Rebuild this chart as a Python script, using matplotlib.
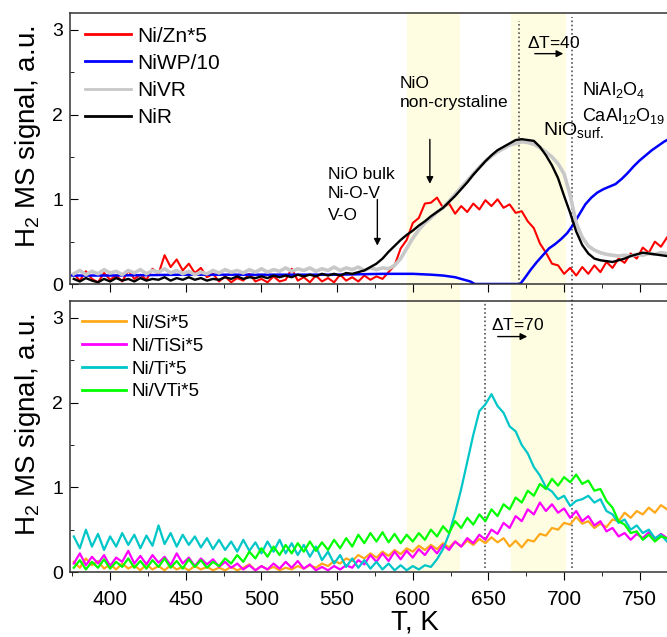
import numpy as np
import matplotlib
matplotlib.use('Agg')
import matplotlib.pyplot as plt
from matplotlib.ticker import MultipleLocator
from matplotlib.patches import Rectangle
from matplotlib.lines import Line2D
from matplotlib.transforms import blended_transform_factory

plt.rcParams['font.family'] = ['Liberation Sans', 'DejaVu Sans']
plt.rcParams['mathtext.fontset'] = 'custom'
plt.rcParams['mathtext.rm'] = 'Liberation Sans'

# temperature grid of the TPR runs, K
T = np.arange(376, 769, 4)

# upper panel
ni_zn = [0.12, 0.04, 0.15, 0.06, 0.02, 0.13, 0.05, 0.10, 0.03, 0.16,
         0.06, 0.11, 0.05, 0.18, 0.12, 0.34, 0.20, 0.29, 0.16, 0.24,
         0.13, 0.19, 0.08, 0.12, 0.03, 0.09, 0.02, 0.07, 0.04, 0.12,
         0.03, 0.06, 0.02, 0.09, 0.03, 0.05, 0.18, 0.04, 0.08, 0.02,
         0.10, 0.03, 0.07, 0.02, 0.11, 0.04, 0.08, 0.03, 0.10, 0.05,
         0.09, 0.06, 0.14, 0.22, 0.42, 0.52, 0.72, 0.78, 0.95, 0.96,
         1.02, 0.90, 0.95, 0.83, 0.92, 0.85, 0.95, 0.88, 0.99, 0.92,
         1.00, 0.90, 0.94, 0.84, 0.86, 0.74, 0.66, 0.48, 0.37, 0.24,
         0.22, 0.12, 0.19, 0.10, 0.20, 0.12, 0.22, 0.14, 0.26, 0.19,
         0.30, 0.25, 0.36, 0.30, 0.43, 0.37, 0.50, 0.44, 0.55]

ni_vr = [0.12, 0.16, 0.11, 0.15, 0.12, 0.17, 0.13, 0.15, 0.11, 0.16,
         0.13, 0.17, 0.12, 0.16, 0.14, 0.18, 0.13, 0.16, 0.12, 0.15,
         0.11, 0.14, 0.12, 0.16, 0.13, 0.17, 0.14, 0.16, 0.13, 0.17,
         0.14, 0.18, 0.14, 0.17, 0.15, 0.19, 0.15, 0.18, 0.16, 0.19,
         0.15, 0.18, 0.16, 0.20, 0.16, 0.19, 0.17, 0.20, 0.16, 0.19,
         0.17, 0.19, 0.18, 0.22, 0.30, 0.42, 0.54, 0.64, 0.72, 0.78,
         0.85, 0.90, 0.98, 1.06, 1.14, 1.22, 1.30, 1.38, 1.45, 1.51,
         1.56, 1.60, 1.64, 1.66, 1.68, 1.67, 1.65, 1.61, 1.56, 1.50,
         1.42, 1.30, 1.05, 0.72, 0.55, 0.45, 0.40, 0.37, 0.35, 0.34,
         0.33, 0.34, 0.33, 0.35, 0.34, 0.36, 0.35, 0.37, 0.36]

ni_r = [0.06, 0.03, 0.07, 0.04, 0.02, 0.06, 0.03, 0.07, 0.04, 0.06,
        0.03, 0.07, 0.04, 0.06, 0.05, 0.08, 0.04, 0.07, 0.05, 0.08,
        0.05, 0.07, 0.04, 0.06, 0.05, 0.08, 0.06, 0.09, 0.06, 0.08,
        0.07, 0.09, 0.07, 0.10, 0.08, 0.10, 0.08, 0.11, 0.09, 0.11,
        0.09, 0.12, 0.10, 0.12, 0.10, 0.13, 0.12, 0.14, 0.16, 0.20,
        0.24, 0.30, 0.38, 0.45, 0.52, 0.58, 0.63, 0.69, 0.74, 0.80,
        0.85, 0.90, 0.97, 1.04, 1.12, 1.20, 1.29, 1.37, 1.45, 1.52,
        1.58, 1.62, 1.66, 1.70, 1.71, 1.70, 1.69, 1.62, 1.52, 1.40,
        1.25, 1.04, 0.84, 0.62, 0.46, 0.36, 0.30, 0.28, 0.27, 0.26,
        0.28, 0.30, 0.33, 0.35, 0.37, 0.36, 0.35, 0.34, 0.33]

T_wp = [375, 400, 450, 500, 550, 580, 600, 612, 620, 628, 634, 638, 641,
        671, 674, 678, 682, 686, 690, 694, 698, 702, 706, 710, 714, 718,
        722, 726, 730, 734, 738, 742, 746, 750, 754, 758, 762, 766, 768]
ni_wp = [0.10, 0.10, 0.11, 0.11, 0.11, 0.12, 0.12, 0.11, 0.10, 0.08, 0.05, 0.03, 0.0,
         0.0, 0.07, 0.17, 0.26, 0.34, 0.42, 0.47, 0.53, 0.60, 0.70, 0.82, 0.94, 1.02,
         1.08, 1.12, 1.15, 1.18, 1.24, 1.31, 1.39, 1.46, 1.52, 1.58, 1.63, 1.68, 1.70]

# lower panel
ni_si = [0.12, 0.05, 0.16, 0.08, 0.13, 0.04, 0.09, 0.03, 0.10, 0.04,
         0.08, 0.02, 0.09, 0.03, 0.07, 0.02, 0.08, 0.03, 0.06, 0.02,
         0.07, 0.03, 0.06, 0.02, 0.05, 0.02, 0.06, 0.02, 0.05, 0.09,
         0.02, 0.07, 0.03, 0.06, 0.02, 0.05, 0.03, 0.07, 0.04, 0.08,
         0.05, 0.10, 0.07, 0.13, 0.10, 0.16, 0.13, 0.20, 0.16, 0.22,
         0.17, 0.24, 0.19, 0.26, 0.21, 0.28, 0.24, 0.31, 0.26, 0.32,
         0.27, 0.34, 0.29, 0.36, 0.30, 0.37, 0.32, 0.39, 0.34, 0.41,
         0.35, 0.40, 0.30, 0.37, 0.29, 0.38, 0.36, 0.45, 0.43, 0.52,
         0.50, 0.58, 0.56, 0.65, 0.57, 0.60, 0.52, 0.57, 0.53, 0.62,
         0.60, 0.70, 0.64, 0.72, 0.68, 0.76, 0.70, 0.79, 0.74]

ni_tisi = [0.10, 0.22, 0.08, 0.18, 0.10, 0.20, 0.07, 0.17, 0.12, 0.25,
           0.10, 0.19, 0.09, 0.20, 0.11, 0.18, 0.08, 0.22, 0.10, 0.17,
           0.07, 0.16, 0.09, 0.15, 0.06, 0.12, 0.05, 0.10, 0.03, 0.08,
           0.02, 0.07, 0.03, 0.10, 0.04, 0.12, 0.05, 0.13, 0.04, 0.09,
           0.02, 0.06, 0.02, 0.07, 0.03, 0.08, 0.05, 0.14, 0.09, 0.20,
           0.12, 0.22, 0.13, 0.24, 0.15, 0.25, 0.17, 0.27, 0.20, 0.30,
           0.22, 0.32, 0.26, 0.36, 0.30, 0.40, 0.34, 0.44, 0.38, 0.50,
           0.45, 0.58, 0.52, 0.66, 0.60, 0.74, 0.68, 0.82, 0.72, 0.80,
           0.70, 0.75, 0.64, 0.72, 0.60, 0.66, 0.55, 0.60, 0.48, 0.52,
           0.42, 0.46, 0.38, 0.45, 0.40, 0.47, 0.39, 0.45, 0.40]

ni_ti = [0.42, 0.28, 0.50, 0.30, 0.45, 0.26, 0.42, 0.30, 0.46, 0.32,
         0.44, 0.28, 0.43, 0.31, 0.55, 0.33, 0.46, 0.30, 0.44, 0.32,
         0.42, 0.29, 0.40, 0.27, 0.38, 0.26, 0.36, 0.24, 0.38, 0.25,
         0.35, 0.22, 0.36, 0.24, 0.38, 0.22, 0.34, 0.20, 0.32, 0.18,
         0.30, 0.14, 0.24, 0.10, 0.20, 0.06, 0.16, 0.05, 0.14, 0.04,
         0.12, 0.03, 0.10, 0.02, 0.08, 0.02, 0.07, 0.03, 0.08, 0.06,
         0.15, 0.27, 0.45, 0.70, 0.98, 1.30, 1.62, 1.90, 1.98, 2.10,
         1.96, 1.88, 1.72, 1.66, 1.50, 1.40, 1.24, 1.14, 1.00, 0.95,
         0.86, 0.90, 0.78, 0.84, 0.86, 0.90, 0.82, 0.86, 0.72, 0.68,
         0.58, 0.62, 0.50, 0.55, 0.46, 0.50, 0.40, 0.44, 0.36]

ni_vti = [0.05, 0.14, 0.03, 0.12, 0.05, 0.15, 0.04, 0.12, 0.06, 0.16,
          0.05, 0.13, 0.04, 0.14, 0.06, 0.16, 0.05, 0.13, 0.04, 0.15,
          0.06, 0.14, 0.05, 0.12, 0.07, 0.16, 0.10, 0.20, 0.12, 0.24,
          0.16, 0.28, 0.18, 0.30, 0.20, 0.32, 0.22, 0.34, 0.24, 0.36,
          0.25, 0.35, 0.26, 0.38, 0.28, 0.40, 0.30, 0.44, 0.34, 0.46,
          0.36, 0.47, 0.35, 0.45, 0.34, 0.44, 0.36, 0.46, 0.38, 0.50,
          0.42, 0.54, 0.46, 0.60, 0.52, 0.64, 0.56, 0.68, 0.60, 0.74,
          0.66, 0.80, 0.74, 0.88, 0.82, 0.96, 0.90, 1.04, 0.98, 1.10,
          1.02, 1.12, 1.06, 1.15, 1.04, 1.08, 0.96, 0.98, 0.84, 0.76,
          0.60, 0.56, 0.46, 0.48, 0.38, 0.44, 0.36, 0.42, 0.40]

# highlighted temperature windows and reference temperatures
bands = [(596, 631), (665, 701)]
t_top_peak = 670
t_bottom_peak = 647.5
t_shift = 705

band_color = '#fefde2'
dot_color = '#555555'

fig = plt.figure(figsize=(6.67, 6.37), dpi=100)
ax1 = fig.add_axes([0.10495, 0.55416, 0.89505, 0.42543])
ax2 = fig.add_axes([0.10495, 0.10204, 0.89505, 0.42543])

for ax in (ax1, ax2):
    ax.set_facecolor('none')
    ax.set_xlim(373.5, 768)
    ax.set_ylim(0, 3.2)
    ax.xaxis.set_major_locator(MultipleLocator(50))
    ax.xaxis.set_minor_locator(MultipleLocator(25))
    ax.yaxis.set_major_locator(MultipleLocator(1))
    ax.yaxis.set_minor_locator(MultipleLocator(0.5))
    ax.tick_params(axis='y', which='both', direction='in', labelsize=14, pad=5)
    ax.tick_params(axis='y', which='major', length=6)
    ax.tick_params(axis='y', which='minor', length=3)
    ax.tick_params(axis='x', which='both', direction='out', labelsize=15, pad=7)
    ax.tick_params(axis='x', which='major', length=6)
    ax.tick_params(axis='x', which='minor', length=3)
    ax.spines['right'].set_visible(False)
    for s in ('left', 'top', 'bottom'):
        ax.spines[s].set_color('#333333')
        ax.spines[s].set_linewidth(1.1)
    ax.set_ylabel('H$_\\mathregular{2}$ MS signal, a.u.', fontsize=20)
    ax.yaxis.set_label_coords(-0.045, 0.545)

ax1.tick_params(axis='x', labelbottom=False)

# shaded windows run through both panels
tr = blended_transform_factory(ax1.transData, fig.transFigure)
y0 = 0.10204
y1 = 0.55416 + 0.42543
for a, b in bands:
    fig.patches.append(Rectangle((a, y0), b - a, y1 - y0, transform=tr,
                                 facecolor=band_color, edgecolor='none', zorder=-2))
fig.lines.append(Line2D([t_shift, t_shift], [0.1083, 0.9733], transform=tr,
                        color=dot_color, lw=1.2, ls=(0, (1, 1.5)), zorder=-1))
ax1.axvline(t_top_peak, ymin=0, ymax=0.97, color=dot_color, lw=1.2, ls=(0, (1, 1.5)), zorder=1)
ax2.axvline(t_bottom_peak, ymin=0.015, ymax=0.993, color=dot_color, lw=1.2, ls=(0, (1, 1.5)), zorder=1)

# upper panel curves
ax1.plot(T, ni_zn, color='#ff0000', lw=1.5, label='Ni/Zn*5', zorder=2)
ax1.plot(T_wp, ni_wp, color='#0000ff', lw=1.8, label='NiWP/10', zorder=2.1)
ax1.plot(T, ni_vr, color='#c8c8c8', lw=2.6, label='NiVR', zorder=2.2)
ax1.plot(T, ni_r, color='black', lw=1.7, label='NiR', zorder=2.3)

leg1 = ax1.legend(loc='upper left', bbox_to_anchor=(0.025, 0.95), frameon=False,
                  fontsize=15, handlelength=2.2, handletextpad=0.3,
                  labelspacing=0.39, borderpad=0, borderaxespad=0)
for ln in leg1.get_lines():
    ln.set_linewidth(2)

# lower panel curves
ax2.plot(T, ni_si, color='#ffa91a', lw=1.6, label='Ni/Si*5', zorder=2)
ax2.plot(T, ni_tisi, color='#ff00ff', lw=1.6, label='Ni/TiSi*5', zorder=2.1)
ax2.plot(T, ni_ti, color='#00c6c8', lw=1.6, label='Ni/Ti*5', zorder=2.2)
ax2.plot(T, ni_vti, color='#00ff00', lw=1.6, label='Ni/VTi*5', zorder=2.3)

leg2 = ax2.legend(loc='upper left', bbox_to_anchor=(0.02, 0.95), frameon=False,
                  fontsize=13.5, handlelength=2.35, handletextpad=0.3,
                  labelspacing=0.31, borderpad=0, borderaxespad=0)
for ln in leg2.get_lines():
    ln.set_linewidth(2)

ax2.set_xlabel('T, K', fontsize=20)
ax2.xaxis.set_label_coords(0.577, -0.138)

# annotations, upper panel
fs = 12.5
ax1.text(675.5, 2.85, '$\\Delta$T=40', fontsize=fs, va='center', ha='left')
ax1.annotate('', xy=(701.3, 2.72), xytext=(678.8, 2.72),
             arrowprops=dict(arrowstyle='-|>', color='black', lw=1, mutation_scale=10))
ax1.text(711.7, 2.23, 'NiAl$_\\mathregular{2}$O$_\\mathregular{4}$', fontsize=13, va='baseline')
ax1.text(711.7, 1.93, 'CaAl$_\\mathregular{12}$O$_\\mathregular{19}$', fontsize=13, va='baseline')
ax1.text(685.9, 1.75, 'NiO$_\\mathregular{surf.}$', fontsize=14, va='baseline')
ax1.text(591.4, 2.32, 'NiO', fontsize=fs, va='baseline')
ax1.text(591.4, 2.09, 'non-crystaline', fontsize=fs, va='baseline')
ax1.annotate('', xy=(611.3, 1.15), xytext=(611.3, 1.74),
             arrowprops=dict(arrowstyle='-|>', color='black', lw=1, mutation_scale=10))
ax1.text(543.7, 1.24, 'NiO bulk', fontsize=fs, va='baseline')
ax1.text(543.7, 1.01, 'Ni-O-V', fontsize=fs, va='baseline')
ax1.text(543.7, 0.76, 'V-O', fontsize=fs, va='baseline')
ax1.annotate('', xy=(576.6, 0.42), xytext=(576.6, 1.03),
             arrowprops=dict(arrowstyle='-|>', color='black', lw=1, mutation_scale=10))

# annotations, lower panel
ax2.text(651.6, 2.86, '$\\Delta$T=70', fontsize=fs, va='baseline', ha='left')
ax2.annotate('', xy=(677.5, 2.78), xytext=(654.3, 2.78),
             arrowprops=dict(arrowstyle='-|>', color='black', lw=1, mutation_scale=10))

fig.savefig('out.png', dpi=100)
